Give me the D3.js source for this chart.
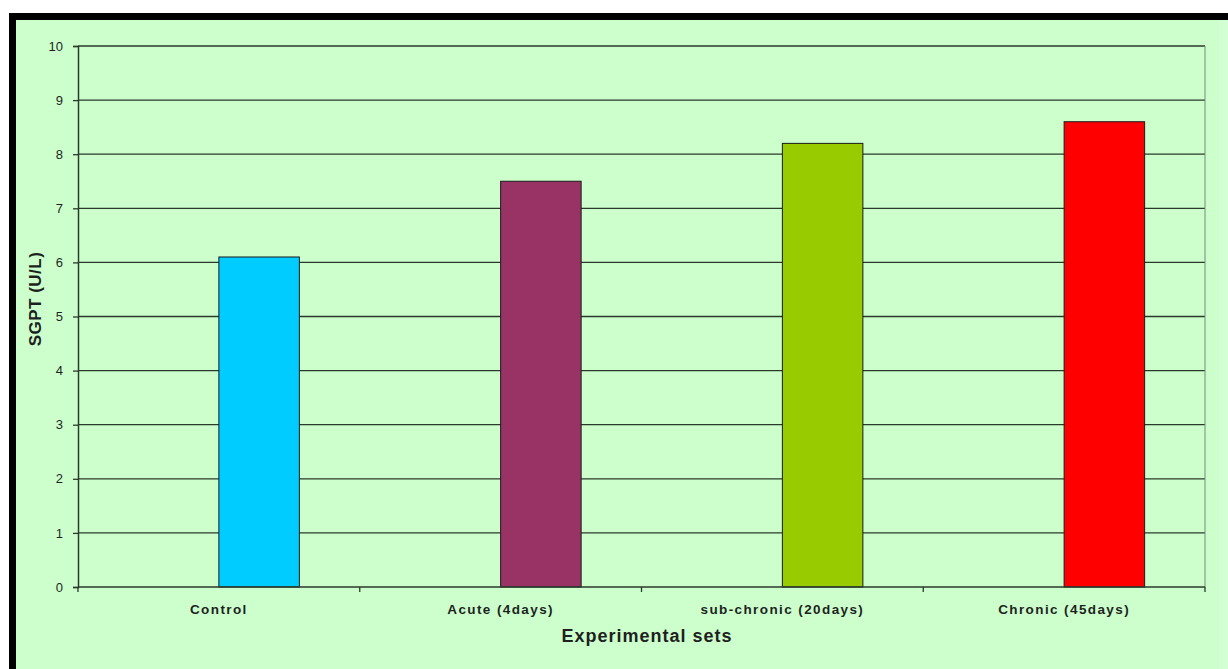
<!DOCTYPE html>
<html>
<head>
<meta charset="utf-8">
<script src="https://cdn.jsdelivr.net/npm/d3@7/dist/d3.min.js"></script>
<style>
  html, body { margin: 0; padding: 0; background: #ffffff; }
  svg { display: block; }
  text { font-family: "Liberation Sans", Arial, sans-serif; fill: #1f1f1f; }
</style>
</head>
<body>
<svg id="chart" width="1228" height="669"></svg>
<script>
// SGPT activity per experimental set
const categories = ["Control", "Acute (4days)", "sub-chronic (20days)", "Chronic (45days)"];
const sgptValues = [6.1, 7.5, 8.2, 8.6];
const barColors = ["#00ccff", "#993366", "#99cc00", "#ff0000"];
const yTicks = [0, 1, 2, 3, 4, 5, 6, 7, 8, 9, 10];

const svg = d3.select("#chart");
const W = 1228, H = 669;

// frame: black border on top and left, pale green chart area
svg.append("rect").attr("x", 9).attr("y", 13).attr("width", W - 9).attr("height", H - 13).attr("fill", "#000");
svg.append("rect").attr("x", 16).attr("y", 20).attr("width", W - 16).attr("height", H - 20).attr("fill", "#ccffcc");
svg.append("rect").attr("x", 1219).attr("y", 20).attr("width", 9).attr("height", H - 20).attr("fill", "#d4ffd4");

const plot = { left: 78, right: 1205, top: 46, bottom: 587 };

const x = d3.scaleBand().domain(categories).range([plot.left, plot.right]).paddingInner(0).paddingOuter(0);
const y = d3.scaleLinear().domain([0, 10]).range([plot.bottom, plot.top]);

// horizontal gridlines
svg.append("g").selectAll("line").data(yTicks.filter(d => d > 0)).join("line")
  .attr("x1", plot.left).attr("x2", plot.right)
  .attr("y1", d => y(d)).attr("y2", d => y(d))
  .attr("stroke", "#2a3a2a").attr("stroke-width", 1.3);

// right edge of plot area
svg.append("line").attr("x1", plot.right).attr("x2", plot.right)
  .attr("y1", plot.top).attr("y2", plot.bottom)
  .attr("stroke", "#7a8a7a").attr("stroke-width", 1);

// bars sit in the right half of each category slot (second series of a clustered layout)
const barW = x.bandwidth() / 3.5;
svg.append("g").selectAll("rect").data(categories).join("rect")
  .attr("x", d => x(d) + x.bandwidth() / 2)
  .attr("y", (d, i) => y(sgptValues[i]))
  .attr("width", barW)
  .attr("height", (d, i) => y(0) - y(sgptValues[i]))
  .attr("fill", (d, i) => barColors[i])
  .attr("stroke", "#1a1a1a").attr("stroke-width", 1);

// y axis
const yAxis = d3.axisLeft(y).tickValues(yTicks).tickSize(5).tickPadding(10).tickFormat(d3.format("d"));
const gy = svg.append("g").attr("transform", `translate(${plot.left},0)`).call(yAxis);
gy.select(".domain").attr("stroke", "#2a3a2a").attr("stroke-width", 1.5);
gy.selectAll(".tick line").attr("stroke", "#2a3a2a").attr("stroke-width", 1.3);
gy.selectAll(".tick text").style("font-size", "13px").style("font-family", "Liberation Sans, Arial, sans-serif").attr("fill", "#333");

// x axis: ticks on category boundaries, labels centred in each slot
svg.append("line").attr("x1", plot.left).attr("x2", plot.right)
  .attr("y1", plot.bottom).attr("y2", plot.bottom)
  .attr("stroke", "#2a3a2a").attr("stroke-width", 1.5);
const boundaries = categories.map(c => x(c)).concat([plot.right]);
svg.append("g").selectAll("line").data(boundaries).join("line")
  .attr("x1", d => d).attr("x2", d => d)
  .attr("y1", plot.bottom).attr("y2", plot.bottom + 5)
  .attr("stroke", "#2a3a2a").attr("stroke-width", 1.3);
svg.append("g").selectAll("text").data(categories).join("text")
  .attr("x", d => x(d) + x.bandwidth() / 2)
  .attr("y", 614)
  .attr("text-anchor", "middle")
  .style("font-size", "13.5px").style("font-weight", "bold").style("letter-spacing", "1.4px")
  .text(d => d);

// axis titles
svg.append("text").attr("x", 647).attr("y", 642).attr("text-anchor", "middle")
  .style("font-size", "18px").style("font-weight", "bold").style("letter-spacing", "1px")
  .text("Experimental sets");
svg.append("text").attr("transform", "translate(41,299) rotate(-90)").attr("text-anchor", "middle")
  .style("font-size", "17px").style("font-weight", "bold").style("letter-spacing", "0.5px")
  .text("SGPT (U/L)");
</script>
</body>
</html>
